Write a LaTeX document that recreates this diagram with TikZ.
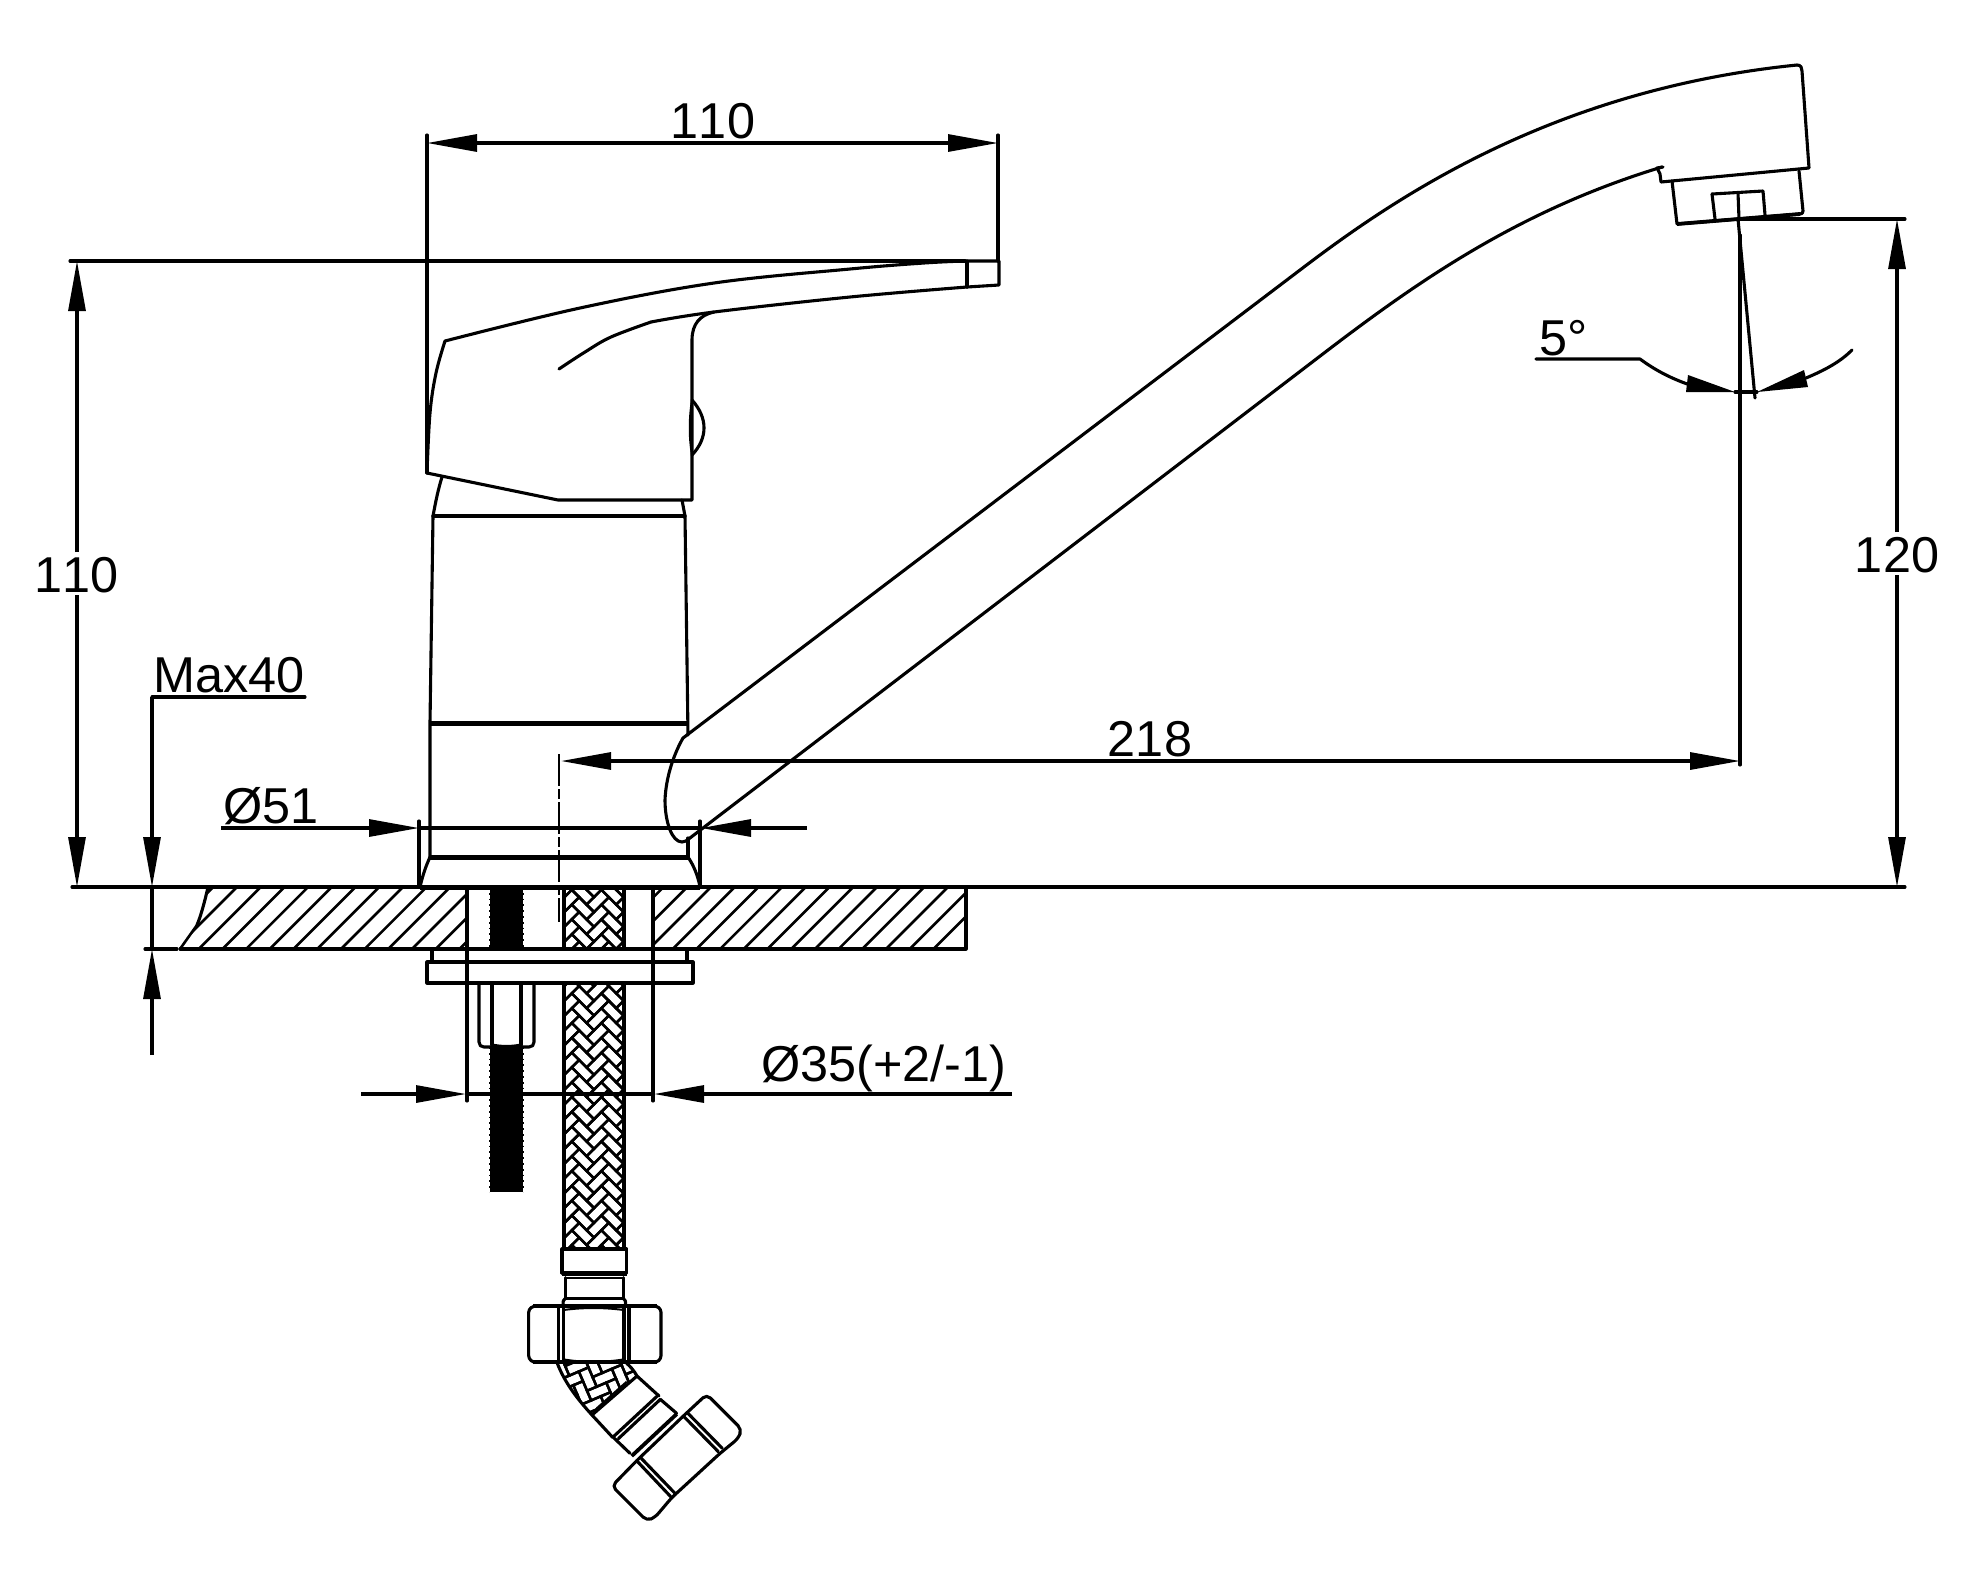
\documentclass[tikz,border=0pt]{standalone}
\usepackage{fontspec}
\setmainfont[Kerning=Off]{Liberation Sans}
\usetikzlibrary{arrows.meta}
\tikzset{
  ln/.style={line width=1.55pt,line join=round,line cap=round},
  thk/.style={line width=2.5pt,line join=round},
  fin/.style={line width=1pt},
  dim/.style={line width=1.55pt,-{Triangle[length=25pt,width=8.5pt]}},
  dimb/.style={line width=1.55pt,{Triangle[length=25pt,width=8.5pt]}-{Triangle[length=25pt,width=8.5pt]}},
  lab/.style={inner sep=0pt,font=\fontsize{25.2}{25.2}\selectfont,anchor=base}
}
\newcommand{\braidtile}[2]{%
  \begin{scope}[x={(3.7pt,3.7pt)},y={(3.7pt,-3.7pt)},line width=1.25pt]
    \foreach \i in {-#1,...,#1}\foreach \j in {-#2,...,#2}{
      \pgfmathsetmacro{\pa}{\i+2*\j}
      \pgfmathsetmacro{\pb}{2*\j-\i}
      \draw (\pa,\pb-1) -- (\pa+2,\pb-1) -- (\pa+2,\pb) -- (\pa,\pb) -- cycle;
      \draw (\pa+2,\pb-1) -- (\pa+3,\pb-1) -- (\pa+3,\pb+1) -- (\pa+2,\pb+1) -- cycle;
    }
  \end{scope}}
\begin{document}
\begin{tikzpicture}[x=0.5pt,y=-0.5pt]
\fill[white] (0,0) rectangle (1964,1576);
\useasboundingbox (0,0) rectangle (1964,1576);

% --- handle
\draw[ln] plot[smooth,tension=.6] coordinates {(427,473) (430,413) (436,373) (445,341)};
\draw[ln] plot[smooth,tension=.6] coordinates {(445,341) (580,308) (714,283) (850,269) (924,263) (965,261)};
\draw[ln] (965,261) -- (999,261) -- (999,285) -- (967,287);
\draw[ln] (967,261) -- (967,287);
\draw[ln] plot[smooth,tension=.6] coordinates {(967,287) (850,297) (714,312) (651,322)};
\draw[ln] plot[smooth,tension=.6] coordinates {(651,322) (611,337) (585,352) (559,369)};
\draw[ln] (714,312) .. controls (700,315) and (692,324) .. (692,340) -- (692,500) -- (558,500) -- (427,473);
\draw[ln] (692,400) .. controls (708,418) and (708,438) .. (692,455);
\draw[fin] (692,400) .. controls (689,418) and (689,438) .. (692,455);
% --- body
\draw[ln] (442,477) .. controls (438,490) and (436,500) .. (433,516);
\draw[ln] (682,500) -- (685,516);
\draw[ln] (433,516) -- (685,516);
\draw[ln] (433,516) -- (430,723) -- (430,857);
\draw[ln] (685,516) -- (688,735);
\draw[thk] (430,723) -- (688,723);
\draw[thk] (430,857) -- (688,857);
\draw[ln] (688,838) -- (688,857);
\draw[ln] (430,857) .. controls (426,866) and (423,874) .. (420,887);
\draw[ln] (688,857) .. controls (694,866) and (698,876) .. (700,887);
% --- spout
\draw[ln] (683,738) .. controls (675,752) and (666,775) .. (665,800) .. controls (665,822) and (672,842) .. (682,842) -- (686,841);
\draw[ln] (683,738) -- (1300,270) .. controls (1392,200) and (1550,90) .. (1797,65);
\draw[ln] (686,841) -- (1328,350) .. controls (1420,280) and (1520,210) .. (1662,167);
\draw[ln] (1797,65) .. controls (1801,65) and (1802,68) .. (1802,71) -- (1809,168) -- (1661,182) -- (1660,174) -- (1657,168) -- (1663,167);
\draw[ln] (1672,181) -- (1677,224) -- (1800,214) .. controls (1802,214) and (1803,213) .. (1803,211) -- (1799,171);
\draw[ln] (1712,194) -- (1763,191) -- (1765,215);
\draw[ln] (1712,194) -- (1715,219);
\draw[ln] (1738,193) -- (1739,219);
\draw[line width=1.9pt] (1677,224) -- (1800,214);
% --- angle 5 degrees
\draw[ln] (1738,219) -- (1755,398);
\draw[ln] (1536,359) -- (1640,359) .. controls (1655,370) and (1670,378) .. (1690,385);
\fill (1735,392) -- (1688,375) -- (1686,392) -- cycle;
\draw[ln] (1735,392) -- (1757,392);
\fill (1757,392) -- (1804,370) -- (1808,387) -- cycle;
\draw[ln] (1806,378) .. controls (1825,370) and (1840,362) .. (1852,350);
\node[lab,anchor=base west] (five) at (1539,355) {5°};

% --- worktop
\begin{scope}
  \clip (208,887) .. controls (204,905) and (200,918) .. (197,925) -- (180,949) -- (466,949) -- (466,887) -- cycle
        (654,887) rectangle (966,949);
  \foreach \k in {-2,...,32}
    \draw[line width=1.3pt] ({237+23.7*\k},887) -- ({175+23.7*\k},949);
\end{scope}
\draw[ln] (72,887) -- (1905,887);
\draw[thk] (420,887) -- (700,887);
\draw[ln] (208,887) .. controls (204,905) and (200,918) .. (197,925);
\draw[line width=1.3pt] (197,925) -- (180,949);
\draw[ln] (180,949) -- (966,949) -- (966,887);
\draw[ln] (145,949) -- (177,949);
% --- hose
\begin{scope}
  \clip (564,887) rectangle (624,948) (564,983) rectangle (624,1248);
  \begin{scope}[shift={(594,1060)}]\braidtile{30}{3}\end{scope}
\end{scope}
\draw[line width=1.7pt] (564,887) -- (564,948) (624,887) -- (624,948);
\draw[line width=1.7pt] (564,983) -- (564,1248) (624,983) -- (624,1248);
% --- bolt
\fill (490,887) rectangle (523,948);
\fill (490,1047) rectangle (523,1192);
\draw[line width=.9pt,dotted] (489.5,887) -- (489.5,948) (523.5,887) -- (523.5,948) (489.5,1047) -- (489.5,1192) (523.5,1047) -- (523.5,1192);
% --- washers
\draw[ln] (432,949) -- (432,962) (687,949) -- (687,962);
\draw[ln] (427,962) rectangle (693,983);
% --- nut on bolt
\draw[ln] (479,983) -- (479,1042) .. controls (479,1045) and (481,1047) .. (484,1047) -- (529,1047) .. controls (532,1047) and (534,1045) .. (534,1042) -- (534,983);
\draw[ln] (492,983) -- (492,1045) (521,983) -- (521,1045);
\draw[ln] (492,1045) .. controls (502,1047) and (511,1047) .. (521,1045);
% --- hole lines and centre line
\draw[ln] (467,887) -- (467,1101) (653,887) -- (653,1101);
\draw[line width=1.4pt,dash pattern=on 16pt off 1.5pt on 5pt off 1.5pt] (559,754) -- (559,922);

% --- hose end fitting
\begin{scope}[shift={(480,1200)},x=0.16667pt,y=-0.16667pt]
  \draw[ln] (246,147) rectangle (440,220);
  \draw[thk] (246,220) -- (440,220);
  \draw[fin] (255,233) -- (430,233);
  \draw[ln] (256,233) -- (256,295) (430,233) -- (430,295);
  \draw[ln] (256,295) -- (430,295);
  \draw[ln] (256,295) .. controls (250,298) and (248,305) .. (250,316);
  \draw[ln] (430,295) .. controls (436,298) and (438,305) .. (436,316);
  % nut
  \draw[ln,rounded corners=1.5pt] (160,318) -- (530,318) -- (543,328) -- (543,476) -- (530,487) -- (160,487) -- (146,476) -- (146,328) -- cycle;
  \draw[line width=1.9pt] (160,318) -- (530,318) (160,487) -- (530,487);
  \draw[ln] (235,322) -- (235,484) (250,322) -- (250,484) (432,322) -- (432,484) (447,322) -- (447,484);
  \draw[fin] (250,330) .. controls (310,322) and (370,322) .. (432,330);
  \draw[fin] (250,478) .. controls (310,488) and (370,488) .. (432,478);
  % bent braid
  \begin{scope}
    \clip (232,490) .. controls (255,550) and (295,600) .. (336,645) -- (471,528) .. controls (462,512) and (450,498) .. (440,490) -- cycle;
    \begin{scope}[shift={(350,560)},rotate=-22]\braidtile{10}{3}\end{scope}
  \end{scope}
  \draw[ln] (232,490) .. controls (255,550) and (295,600) .. (336,645);
  \draw[ln] (440,490) .. controls (450,498) and (462,512) .. (471,528);
  \draw[ln] (336,645) -- (471,528);
  \draw[fin] (350,625) -- (440,545);
  % ferrule
  \draw[ln] (336,645) -- (398,712) (471,528) -- (537,588);
  \draw[ln] (398,712) -- (535,585);
  \draw[ln] (415,716) -- (541,598);
  \draw[ln] (400,712) -- (450,760) (541,598) -- (590,640);
  \draw[line width=1.9pt] (455,768) -- (590,642);
  % angled nut
  \draw[ln,rounded corners=2.5pt] (396,858) -- (470,782) -- (610,648) -- (680,583) -- (785,688) -- (775,715) -- (720,760) -- (575,893) -- (525,952) -- (500,962) -- cycle;
  \draw[ln] (470,782) -- (575,893) (482,773) -- (587,882) (610,648) -- (715,755) (622,638) -- (727,745);
\end{scope}

% --- dimension 110 top
\draw[ln] (427,135) -- (427,473);
\draw[ln] (998,135) -- (998,261);
\draw[dimb] (427,143) -- (998,143);
\node[lab] (topw) at (713,138) {110};
% --- dimension 110 left
\draw[ln] (70,261) -- (965,261);
\draw[dim] (77,552) -- (77,261);
\draw[dim] (77,595) -- (77,887);
\node[lab] (lefth) at (77,592) {110};
% --- dimension 120 right
\draw[ln] (1740,219) -- (1905,219);
\draw[dim] (1897,532) -- (1897,219);
\draw[dim] (1897,575) -- (1897,887);
\node[lab] (righth) at (1897,572) {120};
% --- dimension 218
\draw[ln] (1740,235) -- (1740,765);
\draw[dimb] (561,761) -- (1740,761);
\node[lab] (reach) at (1150,756) {218};
% --- Max40
\node[lab,anchor=base west] (maxt) at (153,692) {Max40};
\draw[ln] (305,697) -- (152,697);
\draw[dim] (152,697) -- (152,887);
\draw[ln] (152,887) -- (152,949);
\draw[dim] (152,1055) -- (152,949);
% --- D51
\node[lab,anchor=base west] (dfive) at (223,823) {Ø51};
\draw[dim] (221,828) -- (419,828);
\draw[ln] (419,821) -- (419,887);
\draw[ln] (419,828) -- (700,828);
\draw[ln] (700,821) -- (700,887);
\draw[dim] (807,828) -- (701,828);
% --- D35
\node[lab,anchor=base west] (dthree) at (761,1081) {Ø35(+2/-1)};
\draw[dim] (361,1094) -- (466,1094);
\draw[ln] (467,1094) -- (653,1094);
\draw[dim] (1012,1094) -- (654,1094);
\end{tikzpicture}
\end{document}
